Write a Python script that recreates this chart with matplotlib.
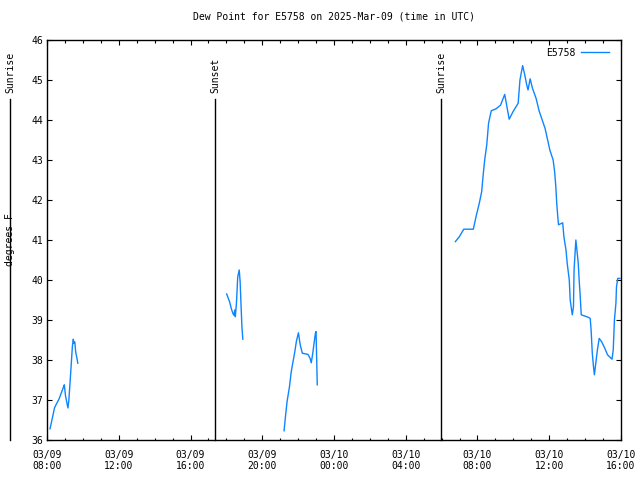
import numpy as np
import pandas as pd
import matplotlib
matplotlib.use("Agg")
import matplotlib.pyplot as plt
import matplotlib.dates as mdates
import matplotlib.transforms as mtransforms

plt.rcParams['font.family'] = 'DejaVu Sans Mono'
plt.rcParams['font.size'] = 7

stationName = "E5758"
lineColor = '#0e85ff'

# dew point readings, one list per stretch of data (gaps between them)
seg1Times = ["03-09 08:10", "03-09 08:15", "03-09 08:20", "03-09 08:25", "03-09 08:30",
             "03-09 08:35", "03-09 08:40", "03-09 08:45", "03-09 08:50", "03-09 08:55",
             "03-09 08:58", "03-09 09:02", "03-09 09:06", "03-09 09:10", "03-09 09:13",
             "03-09 09:16", "03-09 09:19", "03-09 09:22", "03-09 09:25", "03-09 09:28",
             "03-09 09:30", "03-09 09:33", "03-09 09:36", "03-09 09:40", "03-09 09:43"]
seg1Values = [36.28, 36.45, 36.62, 36.80, 36.88, 36.95, 37.02, 37.12, 37.22, 37.32,
              37.38, 37.10, 36.95, 36.80, 36.98, 37.32, 37.65, 38.00, 38.35, 38.52,
              38.42, 38.45, 38.20, 38.05, 37.92]

seg2Times = ["03-09 18:01", "03-09 18:06", "03-09 18:11", "03-09 18:16", "03-09 18:21",
             "03-09 18:25", "03-09 18:28", "03-09 18:30", "03-09 18:34", "03-09 18:38",
             "03-09 18:43", "03-09 18:46", "03-09 18:49", "03-09 18:52", "03-09 18:55"]
seg2Values = [39.65, 39.55, 39.45, 39.30, 39.18, 39.12, 39.25, 39.08, 39.46, 40.08,
              40.25, 39.96, 39.38, 38.83, 38.52]

seg3Times = ["03-09 21:13", "03-09 21:17", "03-09 21:23", "03-09 21:31", "03-09 21:37",
             "03-09 21:43", "03-09 21:49", "03-09 21:54", "03-09 22:01", "03-09 22:07",
             "03-09 22:14", "03-09 22:33", "03-09 22:40", "03-09 22:44", "03-09 22:49",
             "03-09 22:54", "03-09 22:58", "03-09 23:00", "03-09 23:02", "03-09 23:04"]
seg3Values = [36.23, 36.54, 36.96, 37.33, 37.71, 37.96, 38.21, 38.46, 38.68, 38.38,
              38.17, 38.14, 38.04, 37.93, 38.17, 38.46, 38.68, 38.71, 38.04, 37.38]

seg4Times = ["03-10 06:46", "03-10 06:59", "03-10 07:14", "03-10 07:46", "03-10 07:55",
             "03-10 08:06", "03-10 08:14", "03-10 08:19", "03-10 08:24", "03-10 08:31",
             "03-10 08:37", "03-10 08:46", "03-10 09:02", "03-10 09:17", "03-10 09:31",
             "03-10 09:46", "03-10 09:59", "03-10 10:16", "03-10 10:22", "03-10 10:31",
             "03-10 10:38", "03-10 10:44", "03-10 10:49", "03-10 10:56", "03-10 11:04",
             "03-10 11:16", "03-10 11:26", "03-10 11:46", "03-10 12:02", "03-10 12:13",
             "03-10 12:18", "03-10 12:22", "03-10 12:25", "03-10 12:29", "03-10 12:31",
             "03-10 12:45", "03-10 12:49", "03-10 12:56", "03-10 13:00", "03-10 13:07",
             "03-10 13:10", "03-10 13:14", "03-10 13:17", "03-10 13:21", "03-10 13:23",
             "03-10 13:29", "03-10 13:32", "03-10 13:37", "03-10 13:40", "03-10 13:43",
             "03-10 13:47", "03-10 14:10", "03-10 14:17", "03-10 14:20", "03-10 14:24",
             "03-10 14:28", "03-10 14:31", "03-10 14:35", "03-10 14:41", "03-10 14:47",
             "03-10 14:55", "03-10 15:06", "03-10 15:15", "03-10 15:30", "03-10 15:34",
             "03-10 15:38", "03-10 15:43", "03-10 15:45", "03-10 15:49", "03-10 15:56"]
seg4Values = [40.96, 41.08, 41.27, 41.27, 41.58, 41.92, 42.21, 42.63, 43.00, 43.38,
              43.92, 44.23, 44.28, 44.37, 44.64, 44.02, 44.21, 44.42, 45.00, 45.36,
              45.13, 44.90, 44.75, 45.03, 44.79, 44.54, 44.23, 43.79, 43.25, 43.00,
              42.71, 42.33, 41.92, 41.54, 41.38, 41.43, 41.08, 40.75, 40.42, 40.00,
              39.50, 39.29, 39.13, 39.33, 40.25, 41.00, 40.79, 40.42, 40.00, 39.67,
              39.13, 39.07, 39.04, 38.75, 38.17, 37.83, 37.63, 37.88, 38.25, 38.54,
              38.46, 38.29, 38.13, 38.02, 38.25, 39.00, 39.42, 39.83, 40.04, 40.04]

sunEvents = ["Sunrise", "Sunset", "Sunrise"]
sunTimes = ["03-09 05:56", "03-09 17:22", "03-10 05:58"]

xStart = "03-09 08:00"
xEnd = "03-10 16:00"
yTicks = list(range(36, 47))


def toTime(s):
    return pd.Timestamp("2025-" + s)


fig = plt.figure(figsize=(6.4, 4.8), dpi=100)
ax = fig.add_axes([47 / 640, 40 / 480, 574 / 640, 400 / 480])

segments = [(seg1Times, seg1Values), (seg2Times, seg2Values),
            (seg3Times, seg3Values), (seg4Times, seg4Values)]
for i, (times, values) in enumerate(segments):
    ax.plot([toTime(t) for t in times], values, color=lineColor, linewidth=1.0,
            label=stationName if i == 0 else None)

ax.set_xlim(toTime(xStart), toTime(xEnd))
ax.set_ylim(36, 46)
ax.set_yticks(yTicks)

ax.xaxis.set_major_locator(mdates.HourLocator(byhour=[0, 4, 8, 12, 16, 20]))
ax.xaxis.set_minor_locator(mdates.HourLocator())
ax.xaxis.set_major_formatter(mdates.DateFormatter("%m/%d\n%H:%M"))

ax.tick_params(which='both', direction='in', top=True, right=True, color='black')
ax.tick_params(which='major', length=3.5, width=0.8)
ax.tick_params(which='minor', length=1.8, width=0.8)
ax.tick_params(axis='x', pad=7)
ax.tick_params(axis='y', pad=3)
for lbl in ax.get_xticklabels():
    lbl.set_linespacing(1.15)
for spine in ax.spines.values():
    spine.set_linewidth(1.0)

ax.set_title("Dew Point for E5758 on 2025-Mar-09 (time in UTC)", fontsize=7, pad=15)
fig.text(10 / 640, 0.5, "degrees F", rotation=90, va='center', ha='center', fontsize=7)

# sunrise / sunset markers
trans = mtransforms.blended_transform_factory(ax.transData, ax.transAxes)
for name, t in zip(sunEvents, sunTimes):
    ax.plot([toTime(t), toTime(t)], [0, 0.8525], color='black', linewidth=1.0,
            transform=trans, clip_on=False)
    ax.text(toTime(t), 0.8675, name, rotation=90, ha='center', va='bottom',
            transform=trans, fontsize=7, clip_on=False)

ax.legend(loc='upper right', frameon=False, fontsize=7, markerfirst=False,
          handlelength=2.8, borderaxespad=0.0, handletextpad=0.6,
          bbox_to_anchor=(0.985, 0.99))

fig.savefig("out.png", dpi=100)
